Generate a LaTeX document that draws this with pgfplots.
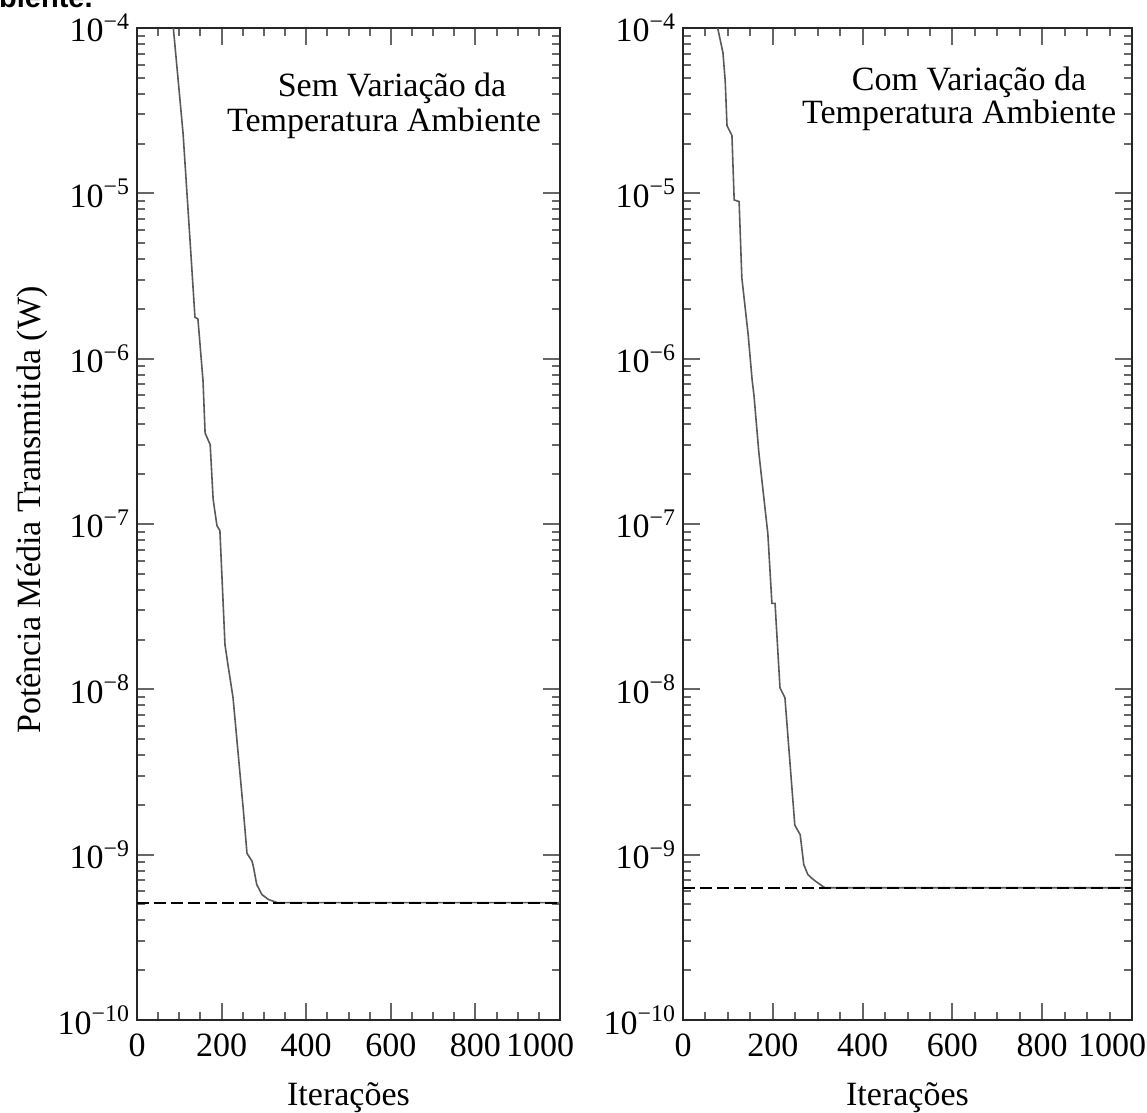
\documentclass[border=0pt]{standalone}
\usepackage{pgfplots}
\pgfplotsset{compat=1.18}
\usepackage{fontspec}
\setmainfont{Liberation Serif}
\newfontfamily\capfont{Liberation Sans}

\begin{document}
\begin{tikzpicture}
\useasboundingbox (0pt,0pt) rectangle (573.5pt,556.5pt);
\node[anchor=base east, font=\capfont\bfseries\fontsize{14.5}{16}\selectfont, inner sep=0] at (46.5pt,552.5pt) {Ambiente.};

\begin{axis}[at={(68.5pt,46.5pt)}, anchor=south west, width=211.5pt,
    scale only axis, height=496pt,
    ymode=log, ymin=1e-10, ymax=1e-4, xmin=0, xmax=1000,
    xtick={0,200,400,600,800,1000},
    xticklabels={0,200,400,600,800,\hspace*{-20pt}1000},
    minor x tick num=3,
    ytick={1e-10,1e-9,1e-8,1e-7,1e-6,1e-5,1e-4},
    yticklabels={10\textsuperscript{−10},10\textsuperscript{−9},10\textsuperscript{−8},10\textsuperscript{−7},10\textsuperscript{−6},10\textsuperscript{−5},10\textsuperscript{−4}},
    minor ytick={2e-10,3e-10,4e-10,5e-10,6e-10,7e-10,8e-10,9e-10,2e-9,3e-9,4e-9,5e-9,6e-9,7e-9,8e-9,9e-9,2e-8,3e-8,4e-8,5e-8,6e-8,7e-8,8e-8,9e-8,2e-7,3e-7,4e-7,5e-7,6e-7,7e-7,8e-7,9e-7,2e-6,3e-6,4e-6,5e-6,6e-6,7e-6,8e-6,9e-6,2e-5,3e-5,4e-5,5e-5,6e-5,7e-5,8e-5,9e-5},
    axis line style={line width=1.3pt, black!85},
    major tick length=8.5pt, minor tick length=4pt,
    tick style={line width=1pt, black!60},
    tick label style={font=\fontsize{17}{20}\selectfont},
    xticklabel style={yshift=-3.5pt},
    xlabel={Iterações},
    xlabel style={font=\fontsize{17}{20}\selectfont, at={(axis description cs:0.5,0)}, anchor=base, yshift=-42.5pt},
    ylabel={Potência Média Transmitida (W)},
    ylabel style={font=\fontsize{17}{20}\selectfont, at={(axis description cs:-0.248,0.514)}, anchor=center}]
\addplot[line width=0.8pt, black!65] coordinates {
(80,1.48e-4) (87,9.33e-5) (109,2.29e-5) (125,5.37e-6) (137,1.78e-6) (144,1.74e-6)
(156,7.41e-7) (161,3.55e-7) (173,3.02e-7) (180,1.41e-7) (189,9.77e-8) (196,9.12e-8)
(208,1.86e-8) (215,1.41e-8) (227,8.91e-9) (251,1.91e-9) (260,1.02e-9) (272,9.12e-10)
(275,8.51e-10) (283,6.61e-10) (295,5.75e-10) (310,5.37e-10) (331,5.13e-10) (1000,5.13e-10)
};
\addplot[line width=1.1pt, black, dash pattern=on 6pt off 2.5pt] coordinates {(0,5.13e-10) (1000,5.13e-10)};
\node[anchor=base, font=\fontsize{17}{20}\selectfont, inner sep=0] at (axis description cs:0.603,0.931) {Sem Variação da};
\node[anchor=base, font=\fontsize{17}{20}\selectfont, inner sep=0] at (axis description cs:0.584,0.896) {Temperatura Ambiente};
\end{axis}

\begin{axis}[at={(341.5pt,46.5pt)}, anchor=south west, width=224.5pt,
    scale only axis, height=496pt,
    ymode=log, ymin=1e-10, ymax=1e-4, xmin=0, xmax=1000,
    xtick={0,200,400,600,800,1000},
    xticklabels={0,200,400,600,800,\hspace*{-20pt}1000},
    minor x tick num=3,
    ytick={1e-10,1e-9,1e-8,1e-7,1e-6,1e-5,1e-4},
    yticklabels={10\textsuperscript{−10},10\textsuperscript{−9},10\textsuperscript{−8},10\textsuperscript{−7},10\textsuperscript{−6},10\textsuperscript{−5},10\textsuperscript{−4}},
    minor ytick={2e-10,3e-10,4e-10,5e-10,6e-10,7e-10,8e-10,9e-10,2e-9,3e-9,4e-9,5e-9,6e-9,7e-9,8e-9,9e-9,2e-8,3e-8,4e-8,5e-8,6e-8,7e-8,8e-8,9e-8,2e-7,3e-7,4e-7,5e-7,6e-7,7e-7,8e-7,9e-7,2e-6,3e-6,4e-6,5e-6,6e-6,7e-6,8e-6,9e-6,2e-5,3e-5,4e-5,5e-5,6e-5,7e-5,8e-5,9e-5},
    axis line style={line width=1.3pt, black!85},
    major tick length=8.5pt, minor tick length=4pt,
    tick style={line width=1pt, black!60},
    tick label style={font=\fontsize{17}{20}\selectfont},
    xticklabel style={yshift=-3.5pt},
    xlabel={Iterações},
    xlabel style={font=\fontsize{17}{20}\selectfont, at={(axis description cs:0.5,0)}, anchor=base, yshift=-42.5pt}]
\addplot[line width=0.8pt, black!65] coordinates {
(70,1.26e-4) (78,9.77e-5) (89,7.08e-5) (94,4.79e-5) (98,2.57e-5) (109,2.24e-5)
(114,9.12e-6) (125,8.91e-6) (131,3.09e-6) (145,1.41e-6) (154,7.41e-7) (158,6.03e-7)
(169,2.69e-7) (189,8.71e-8) (198,3.31e-8) (205,3.31e-8) (216,1.02e-8) (227,8.91e-9)
(249,1.51e-9) (261,1.32e-9) (269,8.71e-10) (278,7.59e-10) (290,7.08e-10) (305,6.61e-10)
(316,6.31e-10) (1000,6.31e-10)
};
\addplot[line width=1.1pt, black, dash pattern=on 6pt off 2.5pt] coordinates {(0,6.31e-10) (1000,6.31e-10)};
\node[anchor=base, font=\fontsize{17}{20}\selectfont, inner sep=0] at (axis description cs:0.637,0.9375) {Com Variação da};
\node[anchor=base, font=\fontsize{17}{20}\selectfont, inner sep=0] at (axis description cs:0.615,0.904) {Temperatura Ambiente};
\end{axis}
\end{tikzpicture}
\end{document}
